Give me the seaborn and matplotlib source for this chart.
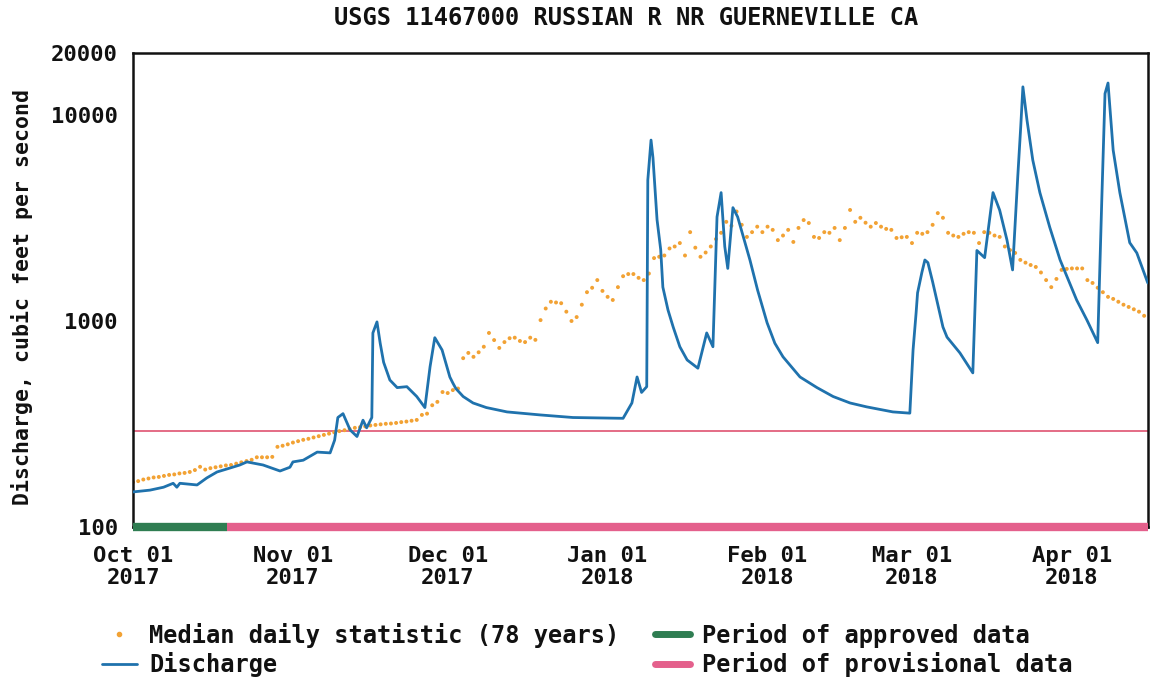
import matplotlib
matplotlib.use("Agg")
import matplotlib.pyplot as plt
from matplotlib.lines import Line2D
import seaborn as sns
import pandas as pd

# ---------------- data ----------------
title = "USGS 11467000 RUSSIAN R NR GUERNEVILLE CA"
y_label = "Discharge, cubic feet per second"

discharge_times = [
    "2017-10-01 00:00", "2017-10-04 07:00", "2017-10-06 22:00", "2017-10-08 19:00",
    "2017-10-09 12:00", "2017-10-10 02:00", "2017-10-13 10:00", "2017-10-15 07:00",
    "2017-10-17 07:00", "2017-10-19 17:00", "2017-10-21 17:00", "2017-10-23 02:00",
    "2017-10-26 05:00", "2017-10-29 12:00", "2017-10-31 10:00", "2017-11-01 00:00",
    "2017-11-03 00:00", "2017-11-05 17:00", "2017-11-08 05:00", "2017-11-09 02:00",
    "2017-11-09 17:00", "2017-11-10 17:00", "2017-11-12 02:00", "2017-11-13 10:00",
    "2017-11-14 14:00", "2017-11-15 07:00", "2017-11-16 07:00", "2017-11-16 12:00",
    "2017-11-17 07:00", "2017-11-17 22:00", "2017-11-18 14:00", "2017-11-19 19:00",
    "2017-11-21 05:00", "2017-11-23 02:00", "2017-11-25 00:00", "2017-11-26 14:00",
    "2017-11-27 14:00", "2017-11-28 12:00", "2017-11-29 22:00", "2017-12-01 10:00",
    "2017-12-02 00:00", "2017-12-02 14:00", "2017-12-04 00:00", "2017-12-05 22:00",
    "2017-12-08 12:00", "2017-12-12 12:00", "2017-12-18 22:00", "2017-12-25 07:00",
    "2018-01-04 00:00", "2018-01-05 17:00", "2018-01-06 17:00", "2018-01-07 14:00",
    "2018-01-08 14:00", "2018-01-08 19:00", "2018-01-09 10:00", "2018-01-09 19:00",
    "2018-01-10 14:00", "2018-01-11 07:00", "2018-01-11 17:00", "2018-01-12 17:00",
    "2018-01-13 17:00", "2018-01-15 00:00", "2018-01-16 10:00", "2018-01-18 12:00",
    "2018-01-20 05:00", "2018-01-21 10:00", "2018-01-22 05:00", "2018-01-23 00:00",
    "2018-01-23 17:00", "2018-01-24 07:00", "2018-01-25 07:00", "2018-01-26 05:00",
    "2018-01-28 14:00", "2018-01-30 02:00", "2018-01-31 22:00", "2018-02-02 10:00",
    "2018-02-04 00:00", "2018-02-07 07:00", "2018-02-10 14:00", "2018-02-13 17:00",
    "2018-02-17 00:00", "2018-02-20 05:00", "2018-02-25 07:00", "2018-02-28 14:00",
    "2018-03-01 05:00", "2018-03-01 19:00", "2018-03-02 02:00", "2018-03-02 22:00",
    "2018-03-03 12:00", "2018-03-04 02:00", "2018-03-05 00:00", "2018-03-07 00:00",
    "2018-03-07 19:00", "2018-03-10 07:00", "2018-03-12 19:00", "2018-03-13 14:00",
    "2018-03-15 02:00", "2018-03-16 17:00", "2018-03-18 00:00", "2018-03-19 10:00",
    "2018-03-20 12:00", "2018-03-21 12:00", "2018-03-22 02:00", "2018-03-22 12:00",
    "2018-03-23 07:00", "2018-03-24 10:00", "2018-03-25 19:00", "2018-03-27 17:00",
    "2018-03-29 17:00", "2018-04-01 22:00", "2018-04-03 22:00", "2018-04-06 00:00",
    "2018-04-06 19:00", "2018-04-07 10:00", "2018-04-08 00:00", "2018-04-09 00:00",
    "2018-04-10 07:00", "2018-04-12 05:00", "2018-04-13 14:00", "2018-04-15 17:00",
]
discharge_cfs = [
    148, 151, 156, 163,
    156, 163, 160, 173,
    185, 193, 200, 207,
    200, 187, 195, 207,
    211, 231, 229, 264,
    340, 355, 296, 275,
    330, 303, 340, 875,
    990, 780, 630, 517,
    475, 480, 430, 380,
    600, 830, 723, 535,
    500, 470, 430, 400,
    380, 362, 350, 340,
    337, 400, 535, 450,
    480, 4834, 7557, 6200,
    3100, 2220, 1460, 1130,
    935, 750, 647, 590,
    875, 750, 3200, 4200,
    2300, 1800, 3550, 3200,
    1980, 1410, 980, 780,
    670, 535, 475, 430,
    400, 383, 362, 357,
    723, 1090, 1370, 1720,
    1978, 1920, 1550, 935,
    835, 700, 560, 2200,
    2030, 4200, 3450, 2470,
    1770, 5000, 8800, 13700,
    9450, 6040, 4200, 2850,
    1980, 1265, 1010, 785,
    3870, 12700, 14300, 6750,
    4200, 2400, 2140, 1530,
]

median_start = "2017-10-01"
median_cfs = [
    165, 167, 170, 172, 174, 175, 177, 179, 180, 182,
    183, 185, 189, 196, 190, 193, 195, 197, 199, 200,
    203, 206, 209, 212, 218, 218, 218, 219, 245, 248,
    252, 257, 261, 265, 268, 272, 276, 280, 284, 288,
    292, 295, 299, 303, 305, 308, 311, 313, 315, 317,
    318, 320, 323, 325, 328, 331, 350, 355, 390, 405,
    452, 447, 462, 470, 660, 700, 670, 705, 750, 875,
    808, 740, 790, 825, 830, 800, 790, 830, 810, 1010,
    1150, 1240, 1230, 1220, 1110, 1000, 1045, 1200, 1380, 1450,
    1580, 1400, 1310, 1265, 1460, 1650, 1690, 1690, 1620, 1580,
    1700, 2020, 2050, 2080, 2250, 2300, 2390, 2080, 2700, 2270,
    2050, 2150, 2300, 2500, 2680, 3030, 2900, 3400, 2930, 2560,
    2700, 2870, 2700, 2870, 2770, 2470, 2600, 2770, 2420, 2830,
    3090, 2990, 2560, 2530, 2700, 2680, 2830, 2470, 2830, 3460,
    3030, 3170, 3000, 2870, 2990, 2870, 2800, 2770, 2530, 2550,
    2560, 2390, 2680, 2650, 2700, 2930, 3340, 3170, 2680, 2600,
    2560, 2650, 2700, 2680, 2390, 2700, 2680, 2600, 2560, 2300,
    2210, 2140, 1980, 1920, 1870, 1830, 1720, 1580, 1460, 1600,
    1770, 1790, 1800, 1800, 1800, 1580, 1530, 1450, 1380, 1310,
    1280, 1240, 1200, 1170, 1140, 1110, 1060,
]

approved_period = ["2017-10-01 00:00", "2017-10-19 04:00"]
provisional_period = ["2017-10-19 04:00", "2018-04-15 18:00"]
threshold_cfs = 293

y_ticks = [100, 1000, 10000, 20000]
y_tick_labels = ["100", "1000", "10000", "20000"]
x_tick_dates = ["2017-10-01", "2017-11-01", "2017-12-01", "2018-01-01",
                "2018-02-01", "2018-03-01", "2018-04-01"]
x_tick_labels = ["Oct 01\n2017", "Nov 01\n2017", "Dec 01\n2017", "Jan 01\n2018",
                 "Feb 01\n2018", "Mar 01\n2018", "Apr 01\n2018"]

legend_labels = ["Median daily statistic (78 years)", "Discharge",
                 "Period of approved data", "Period of provisional data"]

# ---------------- styling ----------------
sns.set_theme(style="white")
plt.rcParams['font.family'] = ['DejaVu Sans Mono']
plt.rcParams['font.weight'] = 'bold'

BLUE = "#1f72ad"
ORANGE = "#f2a234"
RED = "#e2607c"
GREEN = "#2f7d52"
PINK = "#e4608c"
INK = "#111111"
FS = 16

df_q = pd.DataFrame({"time": pd.to_datetime(discharge_times), "cfs": discharge_cfs})
df_m = pd.DataFrame({"time": pd.date_range(median_start, periods=len(median_cfs), freq="D"),
                     "cfs": median_cfs})

fig = plt.figure(figsize=(11.51, 6.81), dpi=100)
ax = fig.add_axes([133 / 1151, 1 - 527 / 681, (1148 - 133) / 1151, (527 - 53) / 681])

x0 = pd.Timestamp(approved_period[0])
x1 = pd.Timestamp(provisional_period[1])

ax.set_yscale("log")
ax.axhline(threshold_cfs, color=RED, lw=1.3, zorder=1)

sns.scatterplot(data=df_m, x="time", y="cfs", ax=ax, color=ORANGE, s=8,
                edgecolor="none", zorder=2, legend=False)
sns.lineplot(data=df_q, x="time", y="cfs", ax=ax, color=BLUE, lw=2.0,
             zorder=3, legend=False)

ax.plot(pd.to_datetime(approved_period), [100, 100], color=GREEN, lw=6,
        solid_capstyle="butt", clip_on=False, zorder=5)
ax.plot(pd.to_datetime(provisional_period), [100, 100], color=PINK, lw=6,
        solid_capstyle="butt", clip_on=False, zorder=5)

ax.set_xlim(x0, x1)
ax.set_ylim(100, 20000)
ax.set_yticks(y_ticks)
ax.set_yticklabels(y_tick_labels)
ax.yaxis.set_minor_locator(matplotlib.ticker.NullLocator())
ax.set_xticks(pd.to_datetime(x_tick_dates))
ax.set_xticklabels(x_tick_labels, linespacing=1.1)
ax.tick_params(axis="both", labelsize=FS, length=0, colors=INK)
ax.tick_params(axis="x", pad=14)
ax.tick_params(axis="y", pad=11)
for lbl in ax.get_xticklabels() + ax.get_yticklabels():
    lbl.set_fontweight("bold")

for sp in ax.spines.values():
    sp.set_color(INK)
    sp.set_linewidth(1.8)
    sp.set_visible(True)

ax.set_xlabel("")
ax.set_ylabel(y_label, fontsize=15.5, fontweight="bold", color=INK)
ax.yaxis.set_label_coords(-0.0985, 0.485)

fig.text(626 / 1151, 1 - 18 / 681, title, ha="center", va="center",
         fontsize=17, fontweight="bold", color=INK)

handles = [
    Line2D([], [], color=ORANGE, marker="o", markersize=3, lw=0),
    Line2D([], [], color=BLUE, lw=2.0),
    Line2D([], [], color=GREEN, lw=5),
    Line2D([], [], color=PINK, lw=5),
]
leg = fig.legend(handles, legend_labels, ncol=2, loc="center",
                 bbox_to_anchor=(587 / 1151, 1 - 650 / 681), frameon=False,
                 prop={"family": "DejaVu Sans Mono", "weight": "bold", "size": 17},
                 handlelength=1.5, handletextpad=0.5, columnspacing=1.5,
                 labelspacing=0.2)
for t in leg.get_texts():
    t.set_color(INK)

fig.savefig("out.png", dpi=100, facecolor="white")
